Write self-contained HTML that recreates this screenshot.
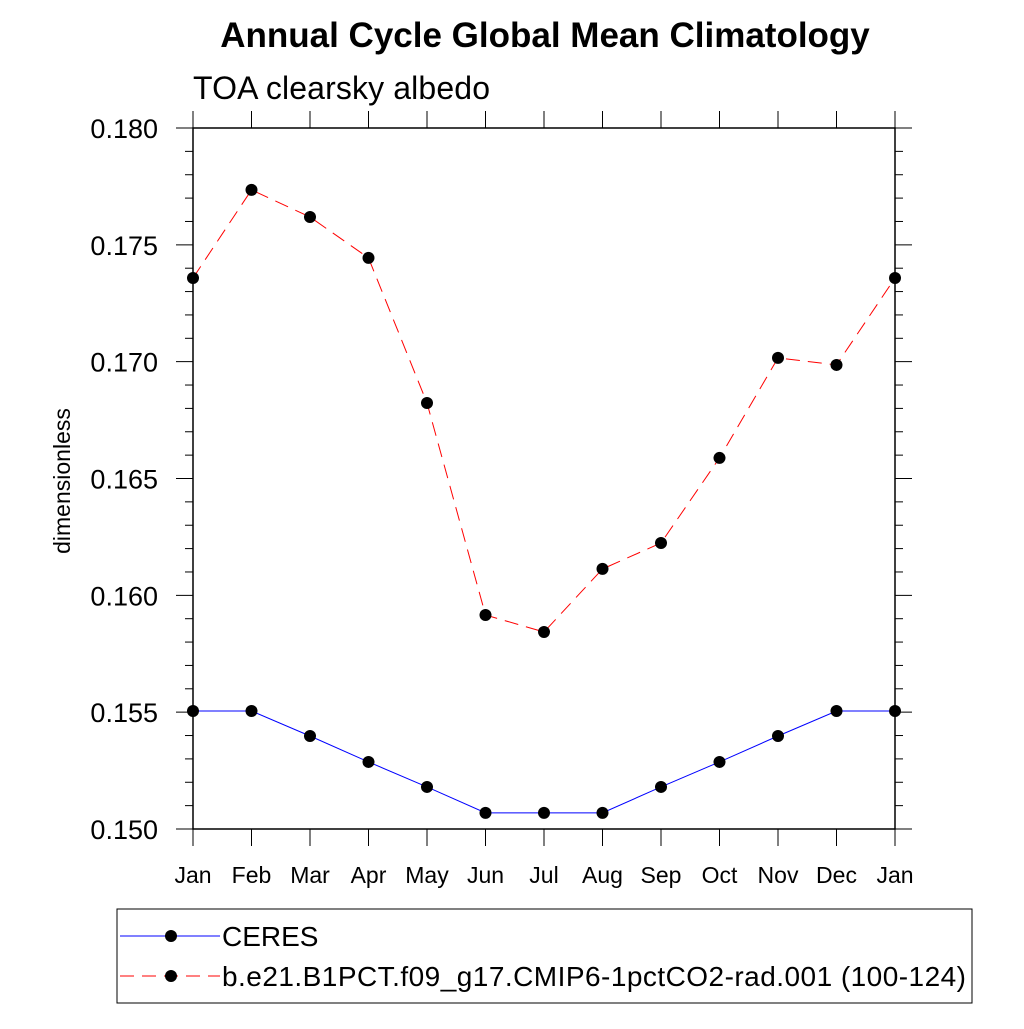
<!DOCTYPE html>
<html><head><meta charset="utf-8"><style>
body{margin:0;background:#fff;font-family:"Liberation Sans",sans-serif}
</style></head><body>
<svg id="chart" width="1024" height="1024" xmlns="http://www.w3.org/2000/svg" font-family="Liberation Sans, sans-serif">
<text x="545" y="47" font-size="35" font-weight="bold" text-anchor="middle">Annual Cycle Global Mean Climatology</text>
<text x="193" y="99" font-size="32" textLength="297">TOA clearsky albedo</text>
<text transform="translate(70,481) rotate(-90)" font-size="23" text-anchor="middle">dimensionless</text>
<g id="axes"></g>
<g id="series"></g>
<rect x="117" y="909" width="855" height="94" fill="none" stroke="#000" stroke-width="1"/>
<g>
<line x1="120" y1="936" x2="220" y2="936" stroke="#00f" stroke-width="1"/>
<circle cx="171" cy="936" r="6" fill="#000"/>
<text x="222" y="946" font-size="28">CERES</text></g>
<g>
<line x1="120" y1="976" x2="220" y2="976" stroke="#f00" stroke-width="1" stroke-dasharray="14,8"/>
<circle cx="171" cy="976" r="6" fill="#000"/>
<text x="222" y="986" font-size="28" textLength="744">b.e21.B1PCT.f09_g17.CMIP6-1pctCO2-rad.001 (100-124)</text></g>
</svg>
<script>
const months=["Jan","Feb","Mar","Apr","May","Jun","Jul","Aug","Sep","Oct","Nov","Dec","Jan"];
const ceres=[0.15505,0.15505,0.15398,0.15287,0.15180,0.15069,0.15069,0.15069,0.15180,0.15287,0.15398,0.15505,0.15505];
const model=[0.17358,0.17735,0.17619,0.17444,0.16823,0.15916,0.15843,0.16113,0.16224,0.16588,0.17016,0.16986,0.17358];
const yTicks=["0.150","0.155","0.160","0.165","0.170","0.175","0.180"];
const NS="http://www.w3.org/2000/svg";
const L=193,R=895,T=128,B=829,ymin=0.150,ymax=0.180;
const xs=i=>L+(R-L)*i/(months.length-1);
const ys=v=>B-(v-ymin)/(ymax-ymin)*(B-T);
function mk(tag,attrs,parent){const e=document.createElementNS(NS,tag);for(const k in attrs)e.setAttribute(k,attrs[k]);parent.appendChild(e);return e;}
const ax=document.getElementById('axes');
const frame=mk('rect',{x:L,y:T,width:R-L,height:B-T,fill:'none',stroke:'#000','stroke-width':1.5},ax);


months.forEach((m,i)=>{
  const x=xs(i);
  mk('line',{x1:x,y1:B,x2:x,y2:B+17,stroke:'#000'},ax);
  mk('line',{x1:x,y1:T,x2:x,y2:T-17,stroke:'#000'},ax);
  const t=mk('text',{x:x,y:B+54,'font-size':23,'text-anchor':'middle'},ax);t.textContent=m;
  
  
});
for(let k=0;k<=30;k++){
  const v=ymin+k*0.001,y=ys(v),maj=k%5===0,len=maj?17:8;
  mk('line',{x1:L,y1:y,x2:L-len,y2:y,stroke:'#000'},ax);
  mk('line',{x1:R,y1:y,x2:R+len,y2:y,stroke:'#000'},ax);
}
yTicks.forEach(s=>{
  const t=mk('text',{x:158,y:ys(parseFloat(s))+10,'font-size':27,'text-anchor':'end'},ax);t.textContent=s;
  
  
});
const sg=document.getElementById('series');
function series(vals,color,dash,name){
  const p=mk('polyline',{points:vals.map((v,i)=>xs(i)+','+ys(v)).join(' '),fill:'none',stroke:color,'stroke-width':1,'stroke-dasharray':dash},sg);
  
  
  vals.forEach((v,i)=>{const c=mk('circle',{cx:xs(i),cy:ys(v),r:6,fill:'#000'},sg);
    
    });
}
series(model,'#f00','14,8','model');
series(ceres,'#00f','none','ceres');
</script>
</body></html>
